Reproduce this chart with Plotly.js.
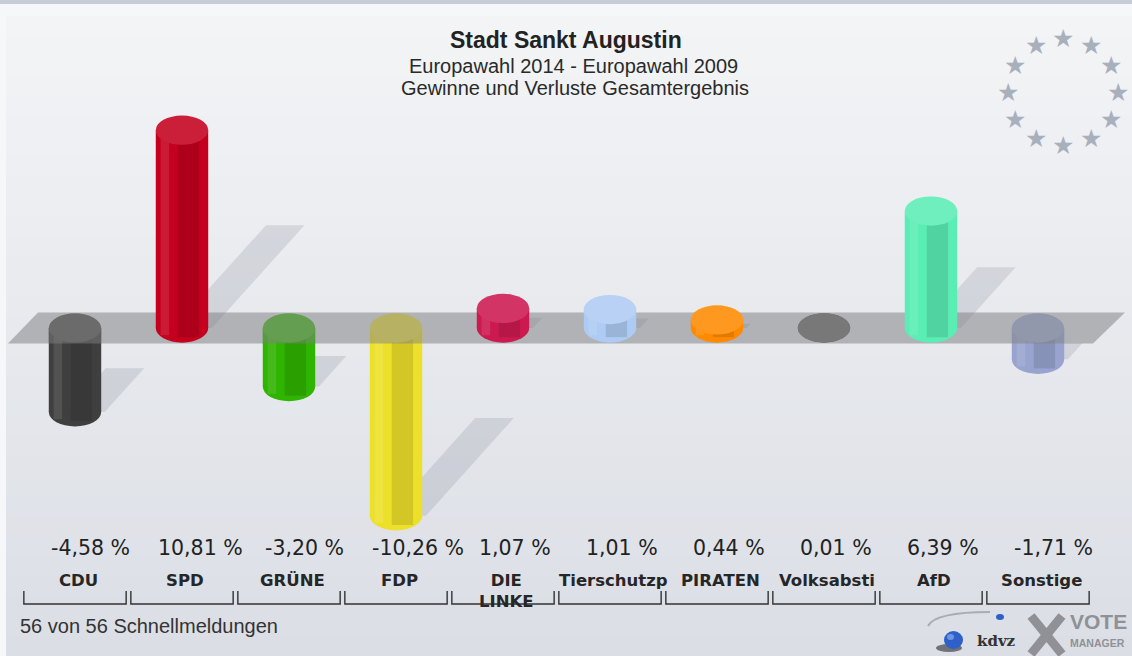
<!DOCTYPE html>
<html><head><meta charset="utf-8">
<script src="https://cdn.plot.ly/plotly-3.0.1.min.js"></script>
<style>html,body{margin:0;padding:0;background:#f6f7f9;overflow:hidden}</style>
</head><body><div id="chart" style="width:1132px;height:656px"></div>
<script>
// ---- data ----
const parties = ["CDU","SPD","GRÜNE","FDP","DIE LINKE","Tierschutzp","PIRATEN","Volksabsti","AfD","Sonstige"];
const partyLabels = ["CDU","SPD","GRÜNE","FDP","DIE<br>LINKE","Tierschutzp","PIRATEN","Volksabsti","AfD","Sonstige"];
const changes = [-4.58, 10.81, -3.20, -10.26, 1.07, 1.01, 0.44, 0.01, 6.39, -1.71];
const valueLabels = ["-4,58 %","10,81 %","-3,20 %","-10,26 %","1,07 %","1,01 %","0,44 %","0,01 %","6,39 %","-1,71 %"];
const colors = ["#3f3f3f","#c4001e","#2fb400","#ece02a","#cc1a50","#aecbf3","#ff8a00","#666666","#5aedb4","#98a4cf"];
const titleLines = ["Stadt Sankt Augustin","Europawahl 2014 - Europawahl 2009","Gewinne und Verluste Gesamtergebnis"];
const footerText = "56 von 56 Schnellmeldungen";

(function(){
// ---- helpers ----
const W = 1132, H = 656;
const px = x => x / W, py = y => 1 - y / H;
const xs = parties.map((_, i) => i);
const BW = 0.49, CAPX = 0.245, CAPY = 0.8, BAND = 0.85;
const BANDRGB = [128,128,130];
function rgb(h){const n=parseInt(h.slice(1),16);return [n>>16&255,n>>8&255,n&255];}
function mixArr(c,t,a){return c.map((v,k)=>Math.round(v*(1-a)+t[k]*a));}
function css(c){return 'rgb('+c.join(',')+')';}

const shapes = [];
// background
shapes.push({type:'rect',xref:'paper',yref:'paper',x0:0,x1:1,y0:py(4),y1:1,fillcolor:'#c6ccd8',line:{width:0},layer:'below'});
const N = 32, cTop=[243,244,246], cBot=[219,222,229];
for (let k=0;k<N;k++){
  const y0 = 16 + (H-16)*k/N, y1 = 16 + (H-16)*(k+1)/N + 1;
  shapes.push({type:'rect',xref:'paper',yref:'paper',x0:px(6),x1:1,y0:py(y1),y1:py(y0),
    fillcolor:css(mixArr(cTop,cBot,k/(N-1))),line:{width:0},layer:'below'});
}
// shadows
changes.forEach((v,i)=>{
  const y0 = Math.min(v,0), a = Math.abs(v);
  const dx = 0.08*a, dy = 0.52*a, c = i+0.1, hw = 0.18;
  if (a < 0.05) return;
  shapes.push({type:'path',xref:'x',yref:'y',layer:'below',line:{width:0},fillcolor:'rgba(120,126,140,0.2)',
    path:`M ${c-hw},${y0} L ${c+hw},${y0} L ${c+hw+dx},${y0+dy} L ${c-hw+dx},${y0+dy} Z`});
});
// zero plane band
shapes.push({type:'path',xref:'paper',yref:'y',layer:'below',line:{width:0},fillcolor:'rgba(128,128,130,0.52)',
  path:`M ${px(8)},${-BAND} L ${px(38)},${BAND} L ${px(1125)},${BAND} L ${px(1093)},${-BAND} Z`});
// bottom caps (behind bodies)
changes.forEach((v,i)=>{
  const yb = Math.min(v,0);
  shapes.push({type:'circle',xref:'x',yref:'y',layer:'below',line:{width:0},fillcolor:colors[i],
    x0:i-CAPX,x1:i+CAPX,y0:yb-CAPY,y1:yb+CAPY});
});
// top caps
changes.forEach((v,i)=>{
  const yt = Math.max(v,0);
  let c = mixArr(rgb(colors[i]),[255,255,255],0.12);
  if (v < 0) c = mixArr(c, BANDRGB, 0.5);
  shapes.push({type:'circle',xref:'x',yref:'y',layer:'above',line:{width:0},fillcolor:css(c),
    x0:i-CAPX,x1:i+CAPX,y0:yt-CAPY,y1:yt+CAPY});
});
// brackets
xs.forEach(i=>{
  shapes.push({type:'path',xref:'x',yref:'paper',layer:'above',line:{color:'#333',width:1.4},
    path:`M ${i-0.478},${py(591)} L ${i-0.478},${py(604)} L ${i+0.478},${py(604)} L ${i+0.478},${py(591)}`});
});
// logo shapes
shapes.push({type:'path',xref:'paper',yref:'paper',layer:'above',line:{color:'#a8acb4',width:2},
  path:`M ${px(990)},${py(612)} Q ${px(935)},${py(612)} ${px(928)},${py(626)}`});
shapes.push({type:'circle',xref:'paper',yref:'paper',layer:'above',line:{width:0},fillcolor:'rgba(40,40,50,0.6)',
  x0:px(936),x1:px(962),y0:py(652),y1:py(644)});
shapes.push({type:'circle',xref:'paper',yref:'paper',layer:'above',line:{width:0},fillcolor:'#2f5fc8',
  x0:px(944),x1:px(963),y0:py(649),y1:py(631)});
shapes.push({type:'circle',xref:'paper',yref:'paper',layer:'above',line:{width:0},fillcolor:'#6f95e0',
  x0:px(947),x1:px(954),y0:py(640),y1:py(634)});
shapes.push({type:'circle',xref:'paper',yref:'paper',layer:'above',line:{width:0},fillcolor:'#2f5fc8',
  x0:px(996),x1:px(1004),y0:py(620),y1:py(614)});
shapes.push({type:'line',xref:'paper',yref:'paper',layer:'above',line:{color:'#8f9196',width:9},
  x0:px(1031),y0:py(616),x1:px(1062),y1:py(654)});
shapes.push({type:'line',xref:'paper',yref:'paper',layer:'above',line:{color:'#8f9196',width:9},
  x0:px(1062),y0:py(616),x1:px(1031),y1:py(654)});

// ---- annotations ----
const ann = [];
const fam = 'Liberation Sans, Arial, sans-serif';
const A = (o) => Object.assign({xref:'paper',yref:'paper',showarrow:false,yanchor:'middle'}, o);
ann.push(A({text:titleLines[0],x:0.5,y:py(40),font:{family:fam,size:23,color:'#222',weight:'bold'}}));
ann.push(A({text:titleLines[1],x:0.5,xshift:7,y:py(66),font:{family:fam,size:20,color:'#2a2a2a'}}));
ann.push(A({text:titleLines[2],x:0.5,xshift:9,y:py(88),font:{family:fam,size:20,color:'#2a2a2a'}}));
xs.forEach(i=>{
  ann.push(A({text:valueLabels[i],x:i-CAPX,xref:'x',xanchor:'left',y:py(548),
    font:{family:'DejaVu Sans',size:20.5,color:'#222'}}));
  ann.push(A({text:partyLabels[i],x:i,xref:'x',xshift:3,y:py(569),yanchor:'top',
    font:{family:'DejaVu Sans',size:16.5,color:'#262626',weight:'bold'}}));
});
ann.push(A({text:footerText,x:px(18),y:py(626),xanchor:'left',font:{family:fam,size:20,color:'#333'}}));
// EU stars
for (let k=0;k<12;k++){
  const ang = Math.PI/2 - k*Math.PI/6;
  ann.push(A({text:'★',x:px(1076+55*Math.cos(ang)),y:py(92-54*Math.sin(ang)),
    font:{family:'DejaVu Sans',size:25,color:'#a9b0bd'}}));
}
ann.push(A({text:'kdvz',x:px(975),y:py(641),xanchor:'left',font:{family:'DejaVu Serif',size:15,color:'#333',weight:'bold'}}));
ann.push(A({text:'VOTE',x:px(1068),y:py(621),xanchor:'left',font:{family:fam,size:21,color:'#8f9196',weight:'bold'}}));
ann.push(A({text:'MANAGER',x:px(1068),y:py(643),xanchor:'left',font:{family:fam,size:10.5,color:'#8f9196',weight:'bold'}}));

// ---- traces ----
const stripe = (ext) => ({
  base: changes.map(v => v >= 0 ? -ext : 0),
  y: changes.map(v => v >= 0 ? v + ext : v - ext)
});
const s1 = stripe(0.4), s2 = stripe(0.5);
const traces = [
  {type:'bar',x:xs,y:changes,base:0,width:BW,marker:{color:colors,line:{width:0}},hoverinfo:'none'},
  {type:'bar',x:xs,y:s1.y,base:s1.base,width:0.08,offset:-0.2,marker:{color:'rgba(255,255,255,0.1)',line:{width:0}},hoverinfo:'none'},
  {type:'bar',x:xs,y:s2.y,base:s2.base,width:0.2,offset:-0.04,marker:{color:'rgba(0,0,0,0.11)',line:{width:0}},hoverinfo:'none'},
  {type:'bar',x:xs,y:changes.map(v=>v<0?Math.max(v,-BAND):null),base:0,width:BW,
    marker:{color:'rgba(128,128,130,0.5)',line:{width:0}},hoverinfo:'none'}
];

const ZERO_PX = 328, PXPER = 18.3;
const layout = {
  width:W,height:H,margin:{l:0,r:0,t:0,b:0},
  paper_bgcolor:'#f6f7f9',plot_bgcolor:'rgba(0,0,0,0)',
  barmode:'overlay',showlegend:false,hovermode:false,
  xaxis:{visible:false,range:[-75/107,-75/107+W/107],fixedrange:true},
  yaxis:{visible:false,range:[-(H-ZERO_PX)/PXPER, ZERO_PX/PXPER],fixedrange:true},
  shapes:shapes,annotations:ann
};
Plotly.newPlot('chart',traces,layout,{displayModeBar:false,staticPlot:true});
})();
</script></body></html>
